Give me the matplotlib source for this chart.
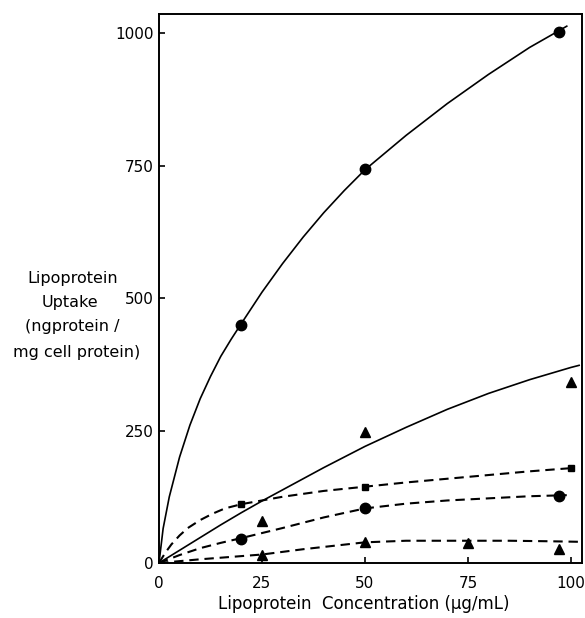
import matplotlib
matplotlib.use("Agg")
import matplotlib.pyplot as plt

# measured points (x in ug/mL, y in ng protein / mg cell protein)
top_x = [20, 50, 97]
top_y = [450, 743, 1002]

tri_solid_x = [25, 50, 100]
tri_solid_y = [79, 247, 342]

sq_x = [20, 50, 100]
sq_y = [111, 144, 179]

circ_x = [20, 50, 97]
circ_y = [45, 103, 127]

tri_low_x = [25, 50, 75, 97]
tri_low_y = [16, 39, 37, 27]

# hand-drawn curves
top_curve_x = [0, 1, 2.5, 5, 7.5, 10, 12.5, 15, 17.5, 20, 25, 30, 35, 40, 45, 50,
               60, 70, 80, 90, 97, 99]
top_curve_y = [0, 65, 125, 200, 260, 310, 352, 390, 422, 452, 511, 565, 615, 661, 703, 742,
               807, 867, 922, 973, 1004, 1013]

mid_curve_x = [0, 5, 10, 15, 20, 25, 30, 35, 40, 45, 50, 60, 70, 80, 90, 100, 102]
mid_curve_y = [0, 24, 48, 72, 95, 117, 138, 159, 180, 200, 220, 256, 290, 320, 346, 369, 373]

sq_curve_x = [0, 1.5, 3, 5, 7, 10, 13, 16, 20, 30, 40, 50, 60, 70, 80, 90, 100]
sq_curve_y = [0, 19, 35, 52, 66, 81, 93, 103, 111, 125, 136, 144, 152, 159, 166, 173, 179]

circ_curve_x = [0, 5, 10, 15, 20, 30, 40, 50, 60, 70, 80, 90, 99]
circ_curve_y = [0, 15, 28, 38, 47, 66, 86, 103, 112, 118, 122, 126, 128]

tri_curve_x = [0, 10, 25, 35, 50, 60, 75, 85, 95, 102]
tri_curve_y = [0, 7, 16, 26, 39, 42, 42, 42, 41, 40]

x_ticks = [0, 25, 50, 75, 100]
y_ticks = [0, 250, 500, 750, 1000]

ylabel_lines = ["Lipoprotein", "Uptake", "(ngprotein /", "mg cell protein)"]
ylabel_pos = [(73, 278), (70, 302), (72, 327), (77, 352)]

fig = plt.figure(figsize=(5.85, 6.18), dpi=100)
ax = fig.add_axes([159 / 585, 55 / 618, 423 / 585, 549 / 618])

lw = 1.2
dash = (4.5, 2.8)

ax.plot(top_curve_x, top_curve_y, color="black", lw=lw)
ax.plot(mid_curve_x, mid_curve_y, color="black", lw=lw)
ax.plot(sq_curve_x, sq_curve_y, color="black", lw=1.5, dashes=dash)
ax.plot(circ_curve_x, circ_curve_y, color="black", lw=1.5, dashes=dash)
ax.plot(tri_curve_x, tri_curve_y, color="black", lw=1.5, dashes=dash)

ax.plot(top_x, top_y, "o", color="black", ms=7.5)
ax.plot(tri_solid_x, tri_solid_y, "^", color="black", ms=7)
ax.plot(sq_x, sq_y, "s", color="black", ms=5)
ax.plot(circ_x, circ_y, "o", color="black", ms=7.5)
ax.plot(tri_low_x, tri_low_y, "^", color="black", ms=6.5)

ax.set_xlim(0, 102.7)
ax.set_ylim(0, 1036)
ax.set_xticks(x_ticks)
ax.set_yticks(y_ticks)
ax.tick_params(direction="in", length=4, width=1.2, labelsize=11)
ax.tick_params(axis="x", pad=9)
ax.tick_params(axis="y", pad=4)
for s in ax.spines.values():
    s.set_linewidth(1.4)

fig.text(364 / 585, 1 - 604 / 618, "Lipoprotein  Concentration (\u00b5g/mL)",
         ha="center", va="center", fontsize=12)
for line, (px, py) in zip(ylabel_lines, ylabel_pos):
    fig.text(px / 585, 1 - py / 618, line, ha="center", va="center", fontsize=11.5)

fig.savefig("out.png", dpi=100)
